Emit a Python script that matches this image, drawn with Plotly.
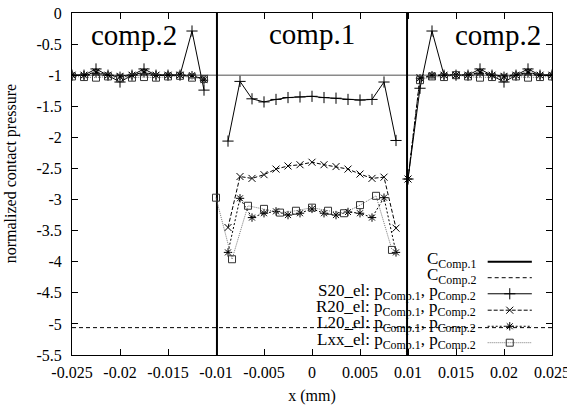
import plotly.graph_objects as go

# ---------------- data ----------------
x_left = [-0.025, -0.02375, -0.0225, -0.02125, -0.02, -0.01875, -0.0175, -0.01625, -0.015, -0.01375, -0.0125, -0.01125]
x_center = [-0.00875, -0.0075, -0.00625, -0.005, -0.00375, -0.0025, -0.00125, 0.0, 0.00125, 0.0025, 0.00375, 0.005, 0.00625, 0.0075, 0.00875]
x_right = [0.01, 0.01125, 0.0125, 0.01375, 0.015, 0.01625, 0.0175, 0.01875, 0.02, 0.02125, 0.0225, 0.02375, 0.025]
x_center_lxx = [-0.01, -0.00833, -0.00667, -0.005, -0.00333, -0.00167, 0.0, 0.00167, 0.00333, 0.005, 0.00667, 0.00833]

s20_left = [-1.0, -1.0, -0.90, -1.0, -1.11, -1.0, -0.90, -1.0, -1.0, -1.0, -0.29, -1.24]
s20_center = [-2.06, -1.10, -1.38, -1.43, -1.39, -1.36, -1.35, -1.34, -1.36, -1.37, -1.39, -1.40, -1.39, -1.11, -2.05]
s20_right = [-2.67, -1.21, -0.29, -1.0, -1.0, -1.0, -0.90, -1.0, -1.11, -1.0, -0.90, -1.0, -1.0]

r20_left = [-1.0, -1.0, -0.95, -1.0, -1.03, -1.0, -0.95, -1.0, -1.0, -1.0, -1.02, -1.05]
r20_center = [-3.45, -2.63, -2.66, -2.60, -2.51, -2.46, -2.44, -2.40, -2.44, -2.47, -2.51, -2.59, -2.66, -2.64, -3.46]
r20_right = [-2.67, -1.04, -1.02, -1.0, -1.0, -1.0, -0.95, -1.0, -1.03, -1.0, -0.95, -1.0, -1.0]

l20_left = [-1.0, -1.0, -0.97, -1.0, -1.01, -1.0, -0.97, -1.0, -1.0, -1.0, -1.0, -1.08]
l20_center = [-3.85, -2.98, -3.29, -3.22, -3.19, -3.25, -3.22, -3.15, -3.22, -3.25, -3.20, -3.22, -3.29, -2.97, -3.85]
l20_right = [-2.67, -1.05, -1.0, -1.0, -1.0, -1.0, -0.97, -1.0, -1.01, -1.0, -0.97, -1.0, -1.0]

lxx_left = [-1.02, -1.03, -1.04, -1.02, -1.05, -1.04, -1.03, -1.04, -1.02, -1.01, -1.04, -1.06]
lxx_center = [-2.97, -3.96, -3.10, -3.15, -3.21, -3.18, -3.13, -3.18, -3.22, -3.09, -2.94, -3.81]
lxx_right = [-1.08, -1.02, -1.03, -1.0, -1.02, -1.04, -1.03, -1.05, -1.02, -1.04, -1.03, -1.02]
x_right_lxx = x_right[1:]

interface_x = [-0.0099, 0.0099]
ref_level = -1.0
c_comp2_level = -5.06

x_range = [-0.0250001, 0.0250001]
y_range = [-5.5, 0.0]
x_tickvals = [-0.025, -0.02, -0.015, -0.01, -0.005, 0, 0.005, 0.01, 0.015, 0.02, 0.025]
x_ticktext = ["-0.025", "-0.02", "-0.015", "-0.01", "-0.005", "0", "0.005", "0.01", "0.015", "0.02", "0.025"]
y_tickvals = [0, -0.5, -1, -1.5, -2, -2.5, -3, -3.5, -4, -4.5, -5, -5.5]
y_ticktext = ["0", "-0.5", "-1", "-1.5", "-2", "-2.5", "-3", "-3.5", "-4", "-4.5", "-5", "-5.5"]

legend_labels = [
    "C<sub>Comp.1</sub>",
    "C<sub>Comp.2</sub>",
    "S20_el: p<sub>Comp.1</sub>, p<sub>Comp.2</sub>",
    "R20_el: p<sub>Comp.1</sub>, p<sub>Comp.2</sub>",
    "L20_el: p<sub>Comp.1</sub>, p<sub>Comp.2</sub>",
    "Lxx_el: p<sub>Comp.1</sub>, p<sub>Comp.2</sub>",
]
region_labels = ["comp.2", "comp.1", "comp.2"]
region_x = [-0.0185, 0.0, 0.0194]
region_y = [-0.36, -0.33, -0.36]

FONT = "Liberation Serif"

def join(*parts):
    out = []
    for i, p in enumerate(parts):
        if i:
            out.append(None)
        out.extend(p)
    return out

fig = go.Figure()

# styles
styles = {
    "C1": dict(line=dict(color="black", width=2), mode="lines"),
    "C2": dict(line=dict(color="black", width=1, dash="4px,3px"), mode="lines"),
    "S20": dict(line=dict(color="black", width=1), mode="lines+markers",
                marker=dict(symbol="cross-thin-open", size=8, color="black", line=dict(color="black", width=1))),
    "R20": dict(line=dict(color="black", width=1, dash="4px,2px"), mode="lines+markers",
                marker=dict(symbol="x-thin-open", size=7, color="black", line=dict(color="black", width=1))),
    "L20": dict(line=dict(color="black", width=1, dash="2px,2px"), mode="lines+markers",
                marker=dict(symbol="asterisk-open", size=7, color="black", line=dict(color="black", width=1))),
    "LXX": dict(line=dict(color="#777777", width=1, dash="1px,1px"), mode="lines+markers",
                marker=dict(symbol="square-open", size=7, color="#333333", line=dict(color="#333333", width=1))),
}

# reference line y=-1 (grey)
fig.add_trace(go.Scatter(x=x_range, y=[ref_level, ref_level], mode="lines",
                         line=dict(color="#8a8a8a", width=1.5), showlegend=False, hoverinfo="skip"))
# C_Comp.1 interfaces
fig.add_trace(go.Scatter(x=[interface_x[0], interface_x[0], None, interface_x[1], interface_x[1]],
                         y=[y_range[1], y_range[0], None, y_range[1], y_range[0]],
                         showlegend=False, **styles["C1"]))
# C_Comp.2
fig.add_trace(go.Scatter(x=x_range, y=[c_comp2_level, c_comp2_level], showlegend=False, **styles["C2"]))

fig.add_trace(go.Scatter(x=join(x_left, x_center, x_right), y=join(s20_left, s20_center, s20_right),
                         showlegend=False, **styles["S20"]))
fig.add_trace(go.Scatter(x=join(x_left, x_center, x_right), y=join(r20_left, r20_center, r20_right),
                         showlegend=False, **styles["R20"]))
fig.add_trace(go.Scatter(x=join(x_left, x_center, x_right), y=join(l20_left, l20_center, l20_right),
                         showlegend=False, **styles["L20"]))
fig.add_trace(go.Scatter(x=join(x_left, x_center_lxx, x_right_lxx), y=join(lxx_left, lxx_center, lxx_right),
                         showlegend=False, **styles["LXX"]))

# manual gnuplot-style legend (samples on overlay axes in 0..1 units)
row_y = [0.273, 0.226, 0.179, 0.131, 0.084, 0.036]
keys = ["C1", "C2", "S20", "R20", "L20", "LXX"]
lx0, lx1, lxm, ltext = 0.866, 0.958, 0.912, 0.845
for k, ry, lab in zip(keys, row_y, legend_labels):
    st = styles[k]
    fig.add_trace(go.Scatter(x=[lx0, lx1], y=[ry, ry], xaxis="x2", yaxis="y2", mode="lines",
                             line=st["line"], showlegend=False, hoverinfo="skip"))
    if "marker" in st:
        fig.add_trace(go.Scatter(x=[lxm], y=[ry], xaxis="x2", yaxis="y2", mode="markers",
                                 marker=st["marker"], showlegend=False, hoverinfo="skip"))
    fig.add_annotation(x=ltext, y=ry, xref="x2", yref="y2", text=lab, showarrow=False,
                       xanchor="right", yanchor="middle", yshift=2,
                       font=dict(family=FONT, size=17, color="black"))

for t, rx, ry in zip(region_labels, region_x, region_y):
    fig.add_annotation(x=rx, y=ry, xref="x", yref="y", text=t, showarrow=False,
                       xanchor="center", yanchor="middle",
                       font=dict(family=FONT, size=29, color="black"))

fig.add_annotation(x=-0.128, y=0.53, xref="paper", yref="paper", text="normalized contact pressure",
                   textangle=-90, showarrow=False, xanchor="center", yanchor="middle",
                   font=dict(family=FONT, size=16, color="black"))

axis_common = dict(showgrid=False, zeroline=False, showline=True, linecolor="black", linewidth=1,
                   mirror="ticks", ticks="inside", ticklen=6, tickcolor="black", tickwidth=1,
                   automargin=False,
                   tickfont=dict(family=FONT, size=16, color="black"))

fig.update_layout(
    width=567, height=410,
    margin=dict(l=72, r=15, t=13, b=55),
    paper_bgcolor="white", plot_bgcolor="white",
    showlegend=False,
    xaxis=dict(range=x_range, tickvals=x_tickvals, ticktext=x_ticktext,
               title=dict(text="x (mm)", font=dict(family=FONT, size=16, color="black"), standoff=9),
               ticklabelstandoff=3, ticklabeloverflow="allow", **axis_common),
    yaxis=dict(range=y_range, tickvals=y_tickvals, ticktext=y_ticktext,
               ticklabelstandoff=6, **axis_common),
    xaxis2=dict(range=[0, 1], overlaying="x", visible=False),
    yaxis2=dict(range=[0, 1], overlaying="y", visible=False),
)

fig.write_html("out.html")
